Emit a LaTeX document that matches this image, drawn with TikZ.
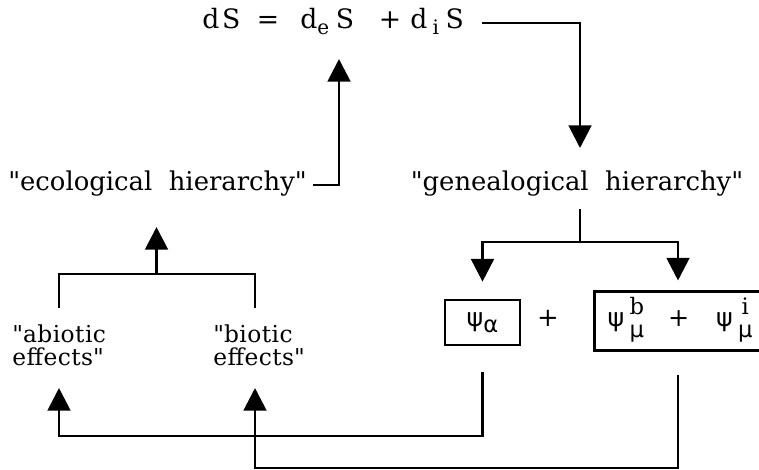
\documentclass[tikz,border=0pt]{standalone}
\usepackage{fontspec}
\setmainfont{DejaVu Serif}
\newfontfamily\grk{DejaVu Sans}
\usetikzlibrary{arrows.meta,calc}
% lowered subscript in text font
\newcommand{\lowsub}[2][15]{\raisebox{-0.45ex}{\fontsize{#1}{#1}\selectfont #2}}
% superscript stacked over a mu
\newcommand{\stk}[1]{{\fontsize{17}{17}\selectfont\begin{tabular}[c]{@{}c@{}}#1\\[0pt]{\grk μ}\end{tabular}}}
\begin{document}
\begin{tikzpicture}[x=0.75pt,y=-0.75pt,
  conn/.style={line width=2.2pt, line join=miter},
  arr/.style={conn,-{Triangle[width=17pt,length=17pt]}},
  lbl/.style={font=\fontsize{19.4}{22}\selectfont, inner sep=0pt},
  effect/.style={font=\fontsize{17.5}{17.25}\selectfont\addfontfeature{LetterSpace=2}, inner sep=0pt, align=left},
  eqn/.style={font=\fontsize{20}{22}\selectfont, inner sep=0pt},
  psibox/.style={draw, line width=1.8pt, inner sep=0pt, font=\fontsize{19}{22}\selectfont}]
\useasboundingbox (0,0) rectangle (759,469);

% entropy balance
\node[eqn, anchor=base west] (dS)  at (202,28) {d\hspace{2pt}S};
\node[eqn, anchor=base]      (eq)  at (268,28) {=};
\node[eqn, anchor=base west] (deS) at (300,28) {d\lowsub{e}\hspace{5pt}S};
\node[eqn, anchor=base]      (pl)  at (390,28) {+};
\node[eqn, anchor=base west] (diS) at (410,28) {d\hspace{4pt}\lowsub{i}\hspace{5pt}S};

% hierarchies
\node[lbl, anchor=base west] (eco) at (8,190) {\textquotedbl ecological\ \ hierarchy\textquotedbl};
\node[lbl, anchor=base]      (gen) at (577,190) {\textquotedbl genealogical\ \ hierarchy\textquotedbl};

% effects (base = baseline of the second line)
\node[effect, anchor=base west] (abio) at (12,365) {\textquotedbl abiotic\\effects\textquotedbl};
\node[effect, anchor=base west] (bio)  at (213,365) {\textquotedbl biotic\\effects\textquotedbl};

% psi terms
\node[psibox, minimum width=56pt, minimum height=34pt] (psiA) at (482.5,322.5)
  {{\grk ψ}\lowsub[17]{\grk α}};
\node[lbl] (pl2) at (548,318) {+};
\node[psibox, minimum width=128pt, minimum height=44pt] (psiM) at (680,321)
  {{\grk ψ}\hspace{4pt}\stk{b}\hspace{18pt}+\hspace{20pt}{\grk ψ}\hspace{4pt}\stk{i}};

% d_i S feeds the genealogical hierarchy
\draw[arr] ($(diS.base east)+(18,-5)$) -| ($(gen.base)+(3,-42)$);
% the ecological hierarchy feeds d_e S
\draw[arr] ($(eco.base east)+(6,-5)$) -| ($(deS.base west)+(39,31)$);

% genealogical hierarchy splits into the psi terms
\coordinate (gsplit) at ($(gen.base)+(3,52)$);
\draw[conn] ($(gen.base)+(3,19)$) -- (gsplit);
\draw[arr] (gsplit) -| ($(psiA.north)+(0,-17)$);
\draw[arr] (gsplit) -| ($(psiM.north)+(-2,-10)$);

% abiotic and biotic effects join into the ecological hierarchy
\coordinate (ejoin) at ($(abio.base west)!0.5!(bio.base west)+(44,-91)$);
\draw[conn] ($(abio.base west)+(47,-57)$) |- (ejoin) -| ($(bio.base west)+(42,-57)$);
\draw[arr] (ejoin) -- ++(0,-47);

% psi terms feed back to the effects
\draw[arr] ($(psiA.south)+(0,26)$) |- ($(abio.base west)+(47,71)$) -- ++(0,-48);
\draw[arr] ($(psiM.south)+(-2,23)$) |- ($(bio.base west)+(42,103)$) -- ++(0,-80);
\end{tikzpicture}
\end{document}
